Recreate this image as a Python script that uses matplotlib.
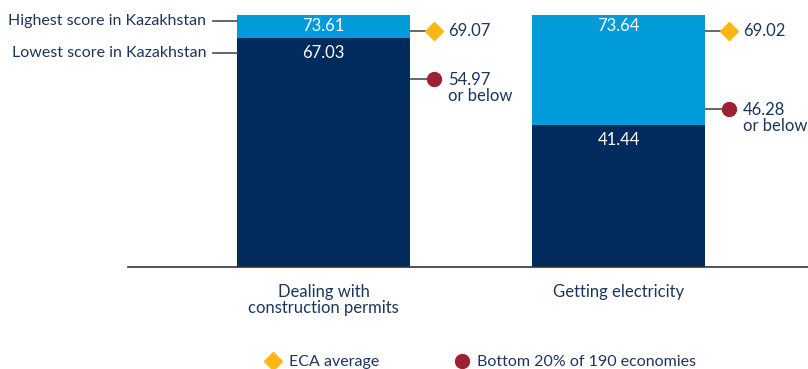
import matplotlib.pyplot as plt
from matplotlib.lines import Line2D
from matplotlib.transforms import ScaledTranslation

categories = ["Dealing with\nconstruction permits", "Getting electricity"]
lowest = [67.03, 41.44]
highest = [73.61, 73.64]
eca_avg = [69.07, 69.02]
bottom20 = [54.97, 46.28]

light_blue = "#009BD8"
navy = "#002B5C"
gold = "#FDB714"
maroon = "#9B2231"
text_col = "#1B365D"
line_col = "#4D4D4D"

plt.rcParams["font.family"] = ["Lato", "DejaVu Sans"]
fs = 11.5

fig = plt.figure(figsize=(8.08, 3.69), dpi=100)
ax = fig.add_axes([128 / 808, 102 / 369, 680 / 808, 267 / 369])

x = [0, 1]
w = 0.586
ax.bar(x, lowest, width=w, color=navy, zorder=2)
ax.bar(x, [h - l for h, l in zip(highest, lowest)], bottom=lowest, width=w,
       color=light_blue, zorder=2)

for i in x:
    ax.annotate(f"{highest[i]:.2f}", (i, highest[i]), xytext=(0, -8),
                textcoords="offset points", ha="center", va="center",
                color="white", fontsize=fs + 0.5)
    ax.annotate(f"{lowest[i]:.2f}", (i, lowest[i]), xytext=(0, -11),
                textcoords="offset points", ha="center", va="center",
                color="white", fontsize=fs + 0.5)

    edge = i + w / 2
    mx = edge + 0.08
    ax.plot([edge, mx], [eca_avg[i]] * 2, color=line_col, lw=1.2, zorder=1)
    ax.plot([edge, mx], [bottom20[i]] * 2, color=line_col, lw=1.2, zorder=1)
    ax.plot(mx, eca_avg[i], marker="D", ms=9, color=gold, zorder=3)
    ax.plot(mx, bottom20[i], marker="o", ms=10, color=maroon, zorder=3)
    tx = i + 0.422
    ax.text(tx, eca_avg[i], f"{eca_avg[i]:.2f}", ha="left", va="center",
            color=text_col, fontsize=fs + 0.5)
    shift = ScaledTranslation(0, 5 / 72, fig.dpi_scale_trans)
    ax.text(tx, bottom20[i], f"{bottom20[i]:.2f}\nor below", ha="left",
            va="top", color=text_col, fontsize=fs + 0.5, linespacing=1.0,
            transform=ax.transData + shift)

# labels on the left of the first bar
left = -w / 2
for yv, label in [(highest[0] - 1.6, "Highest score in Kazakhstan"),
                  (lowest[0] - 4.5, "Lowest score in Kazakhstan")]:
    ax.plot([left - 0.083, left], [yv, yv], color=line_col, lw=1.2,
            clip_on=False)
    ax.text(left - 0.105, yv, label, ha="right", va="center",
            color=text_col, fontsize=fs, clip_on=False)

ax.set_xlim(-0.663, 1.642)
ax.set_ylim(0, 78)
ax.set_yticks([])
ax.set_xticks(x)
ax.set_xticklabels(categories, color=text_col, fontsize=fs + 0.5,
                   linespacing=1.05)
ax.tick_params(axis="x", length=0, pad=12)
for s in ["top", "right", "left"]:
    ax.spines[s].set_visible(False)
ax.spines["bottom"].set_color("#333333")
ax.spines["bottom"].set_linewidth(1.2)

handles = [
    Line2D([], [], marker="D", ls="", ms=9, color=gold, label="ECA average"),
    Line2D([], [], marker="o", ls="", ms=10, color=maroon,
           label="Bottom 20% of 190 economies"),
]
leg = fig.legend(handles=handles, loc="center", bbox_to_anchor=(480 / 808, 1 - 362 / 369),
                 ncol=2, frameon=False, fontsize=fs, handletextpad=0.35,
                 columnspacing=4.6, handlelength=1.2)
for t in leg.get_texts():
    t.set_color(text_col)

fig.savefig("out.png", dpi=100)
